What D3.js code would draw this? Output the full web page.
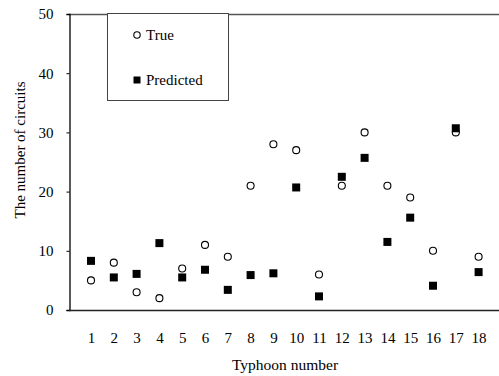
<!DOCTYPE html>
<html>
<head>
<meta charset="utf-8">
<script src="https://cdn.jsdelivr.net/npm/d3@7"></script>
<style>
  html, body { margin: 0; padding: 0; background: #fff; }
  svg { display: block; }
</style>
</head>
<body>
<script>
const typhoons = [1,2,3,4,5,6,7,8,9,10,11,12,13,14,15,16,17,18];
const trueValues = [5,8,3,2,7,11,9,21,28,27,6,21,30,21,19,10,30,9];
const predictedValues = [8.3,5.5,6.1,11.3,5.5,6.8,3.4,5.9,6.2,20.7,2.3,22.5,25.7,11.5,15.6,4.1,30.7,6.4];
const yTicks = [0,10,20,30,40,50];
const seriesNames = ["True", "Predicted"];
const xTitle = "Typhoon number";
const yTitle = "The number of circuits";

const FONT = '"Liberation Serif", "Times New Roman", serif';
const W = 499, H = 376;
const L = 69, T = 14, B = 310, R = 499;

const svg = d3.select("body").append("svg").attr("width", W).attr("height", H);

const x = d3.scaleLinear().domain([0, 19]).range([L - 0.8, 501.4]);
const y = d3.scaleLinear().domain([0, 50]).range([B, T]);

// top border
svg.append("line").attr("x1", L).attr("x2", R).attr("y1", T + 0.5).attr("y2", T + 0.5)
  .attr("stroke", "#555").attr("stroke-width", 1.3);

// y axis
const yAxis = svg.append("g").attr("transform", `translate(${L + 0.5},0)`)
  .call(d3.axisLeft(y).tickValues(yTicks).tickSize(3).tickPadding(13).tickFormat(d3.format("d")));
yAxis.select(".domain").attr("stroke", "#000").attr("stroke-width", 1.3);
yAxis.selectAll(".tick line").attr("stroke", "#000");
yAxis.selectAll(".tick text").style("font-size", "15px").style("font-family", FONT).attr("fill", "#000");

// x axis
const xAxis = svg.append("g").attr("transform", `translate(0,${B + 0.5})`)
  .call(d3.axisBottom(x).tickValues(typhoons).tickSize(0).tickPadding(22).tickFormat(d3.format("d")));
xAxis.select(".domain").attr("d", `M${L},0H${R}`).attr("stroke", "#222").attr("stroke-width", 1.5);
xAxis.selectAll(".tick text").style("font-size", "15px").style("font-family", FONT).attr("fill", "#000");

// axis titles
svg.append("text").attr("x", 285).attr("y", 370).attr("text-anchor", "middle")
  .style("font-size", "15.5px").style("font-family", FONT).text(xTitle);
svg.append("text").attr("transform", `translate(25,150) rotate(-90)`).attr("text-anchor", "middle")
  .style("font-size", "15px").style("font-family", FONT).text(yTitle);

// true circles
svg.append("g").selectAll("circle").data(typhoons).join("circle")
  .attr("cx", (d) => x(d)).attr("cy", (d, i) => y(trueValues[i])).attr("r", 3.5)
  .attr("fill", "#fff").attr("stroke", "#000").attr("stroke-width", 1.1);

// predicted squares
const s = 8;
svg.append("g").selectAll("rect").data(typhoons).join("rect")
  .attr("x", (d) => x(d) - s / 2).attr("y", (d, i) => y(predictedValues[i]) - s / 2)
  .attr("width", s).attr("height", s).attr("fill", "#000");

// legend
svg.append("rect").attr("x", 107.5).attr("y", 13.5).attr("width", 121).attr("height", 87)
  .attr("fill", "#fff").attr("stroke", "#444").attr("stroke-width", 1);
svg.append("circle").attr("cx", 137).attr("cy", 35).attr("r", 3.2)
  .attr("fill", "#fff").attr("stroke", "#000").attr("stroke-width", 1.1);
svg.append("text").attr("x", 146).attr("y", 40).style("font-size", "15px").style("font-family", FONT).text(seriesNames[0]);
svg.append("rect").attr("x", 133.5).attr("y", 76.5).attr("width", 7).attr("height", 7).attr("fill", "#000");
svg.append("text").attr("x", 146).attr("y", 85).style("font-size", "15px").style("font-family", FONT).text(seriesNames[1]);
</script>
</body>
</html>
